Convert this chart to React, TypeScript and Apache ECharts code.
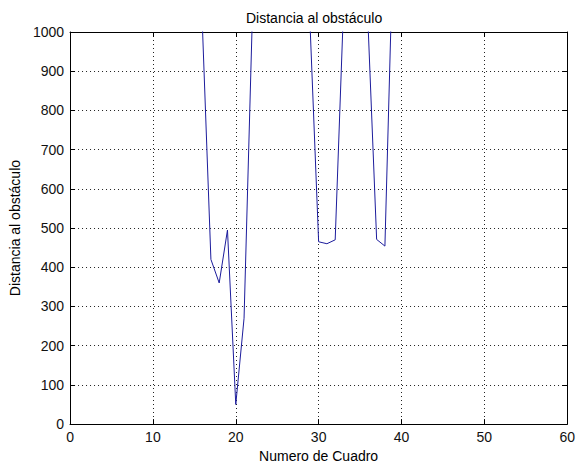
import React, { useEffect, useRef } from "react";
import * as echarts from "echarts";

const TITLE = "Distancia al obstáculo";
const X_NAME = "Numero de Cuadro";
const Y_NAME = "Distancia al obstáculo";

// Frame numbers and measured distances (values above 1000 fall outside the plotted range)
const frames = [14, 15, 16, 17, 18, 19, 20, 21, 22, 23, 24, 25, 26, 27, 28, 29, 30, 31, 32, 33, 34, 35, 36, 37, 38, 39, 40, 41];
const distances = [2000, 2000, 1000, 420, 360, 495, 50, 270, 1038, 2000, 2000, 2000, 2000, 2000, 2000, 1000, 465, 460, 470, 1059, 2000, 2000, 1000, 471, 454, 1234, 2000, 2000];

const X_MIN = 0;
const X_MAX = 60;
const X_STEP = 10;
const Y_MIN = 0;
const Y_MAX = 1000;
const Y_STEP = 100;

export default function App() {
  const ref = useRef<HTMLDivElement>(null);

  useEffect(() => {
    const chart = echarts.init(ref.current!, null, { renderer: "svg" });
    const font = "'Liberation Sans', Arial, sans-serif";
    const black = "#000";
    const tick = { show: true, inside: true, length: 5, lineStyle: { color: black, width: 1 } };
    const line = { show: true, onZero: false, lineStyle: { color: black, width: 1 } };
    const label = {
      color: "#111",
      fontSize: 14,
      fontFamily: font,
      margin: 6,
      formatter: (v: number) => String(v),
    };
    const grid = { show: true, lineStyle: { type: [1, 3], color: "#222", width: 1 } };

    chart.setOption({
      animation: false,
      backgroundColor: "#fff",
      title: {
        text: TITLE,
        left: 246,
        top: 11,
        padding: 0,
        textStyle: { fontSize: 14, fontWeight: "normal", color: black, fontFamily: font },
      },
      grid: { left: 69, right: 7, top: 32, bottom: 43, containLabel: false },
      xAxis: [
        {
          type: "value",
          min: X_MIN,
          max: X_MAX,
          interval: X_STEP,
          position: "bottom",
          name: X_NAME,
          nameLocation: "middle",
          nameGap: 24,
          nameTextStyle: { color: black, fontSize: 14, fontFamily: font },
          axisLine: line,
          axisTick: tick,
          axisLabel: label,
          splitLine: grid,
        },
        {
          type: "value",
          min: X_MIN,
          max: X_MAX,
          interval: X_STEP,
          position: "top",
          axisLine: line,
          axisTick: tick,
          axisLabel: { show: false },
          splitLine: { show: false },
        },
      ],
      yAxis: [
        {
          type: "value",
          min: Y_MIN,
          max: Y_MAX,
          interval: Y_STEP,
          position: "left",
          name: Y_NAME,
          nameLocation: "middle",
          nameGap: 42,
          nameRotate: 90,
          nameTextStyle: { color: black, fontSize: 14, fontFamily: font },
          axisLine: line,
          axisTick: tick,
          axisLabel: label,
          splitLine: grid,
        },
        {
          type: "value",
          min: Y_MIN,
          max: Y_MAX,
          interval: Y_STEP,
          position: "right",
          axisLine: line,
          axisTick: tick,
          axisLabel: { show: false },
          splitLine: { show: false },
        },
      ],
      series: [
        {
          type: "line",
          xAxisIndex: 0,
          yAxisIndex: 0,
          data: frames.map((f, i) => [f, distances[i]]),
          showSymbol: false,
          symbol: "none",
          clip: true,
          lineStyle: { color: "#1c1c9c", width: 1 },
        },
      ],
    });
    return () => chart.dispose();
  }, []);

  return <div ref={ref} style={{ position: "fixed", left: 0, top: 0, width: 578, height: 468 }} />;
}
